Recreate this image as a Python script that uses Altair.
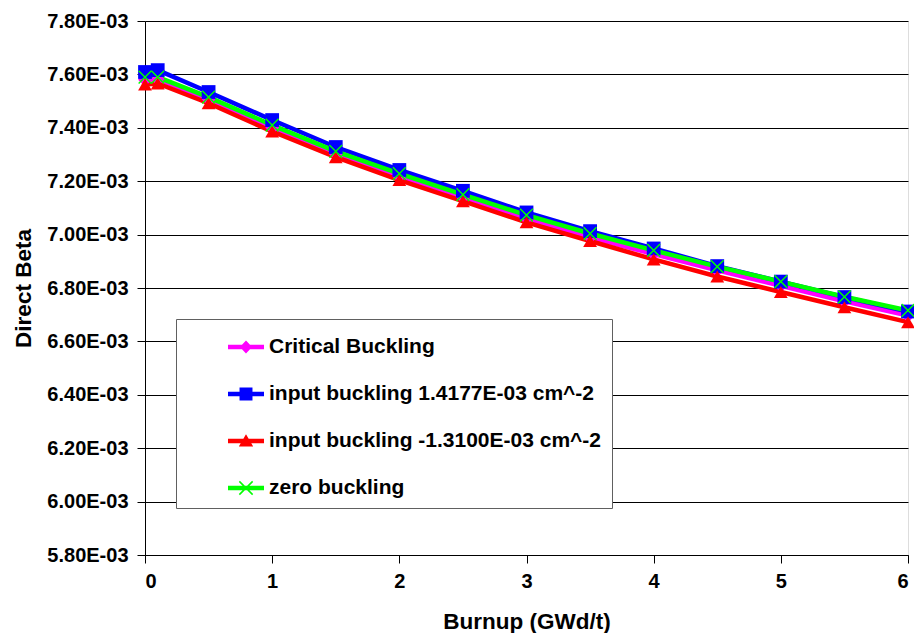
import altair as alt
import pandas as pd

burnup = [0, 0.1, 0.5, 1, 1.5, 2, 2.5, 3, 3.5, 4, 4.5, 5, 5.5, 6]
critical = [7.580, 7.582, 7.506, 7.400, 7.302, 7.218, 7.140, 7.060, 6.990, 6.927, 6.866, 6.808, 6.750, 6.697]
input_pos = [7.609, 7.616, 7.534, 7.429, 7.328, 7.242, 7.164, 7.083, 7.013, 6.948, 6.882, 6.824, 6.766, 6.712]
input_neg = [7.562, 7.566, 7.492, 7.386, 7.290, 7.204, 7.125, 7.046, 6.976, 6.907, 6.843, 6.785, 6.728, 6.672]
zero = [7.590, 7.590, 7.515, 7.410, 7.312, 7.228, 7.150, 7.073, 7.004, 6.941, 6.880, 6.824, 6.767, 6.716]

series_names = [
    "Critical Buckling",
    "input buckling 1.4177E-03 cm^-2",
    "input buckling -1.3100E-03 cm^-2",
    "zero buckling",
]
series_values = [critical, input_pos, input_neg, zero]
series_colors = ["#FF00FF", "#0000FF", "#FF0000", "#00FF00"]

y_ticks = [5.8e-3, 6.0e-3, 6.2e-3, 6.4e-3, 6.6e-3, 6.8e-3, 7.0e-3, 7.2e-3, 7.4e-3, 7.6e-3, 7.8e-3]
x_ticks = [0, 1, 2, 3, 4, 5, 6]

rows = []
for name, vals in zip(series_names, series_values):
    for b, v in zip(burnup, vals):
        rows.append({"burnup": b, "beta": v * 1e-3, "series": name})
df = pd.DataFrame(rows)

X_PATH = "M-1,-0.85L-0.85,-1L1,0.85L0.85,1Z M1,-0.85L-0.85,1L-1,0.85L0.85,-1Z"
point_shapes = ["diamond", "square", "triangle-up", X_PATH]

LINE = "M-1,-0.125L1,-0.125L1,0.125L-1,0.125Z "
legend_shapes = [
    LINE + "M0,-0.36L0.34,0L0,0.36L-0.34,0Z",
    LINE + "M-0.36,-0.36L0.36,-0.36L0.36,0.36L-0.36,0.36Z",
    LINE + "M0,-0.38L0.4,0.3L-0.4,0.3Z",
    LINE + "M-0.4,-0.34L-0.34,-0.4L0.4,0.34L0.34,0.4Z M0.4,-0.34L-0.34,0.4L-0.4,0.34L0.34,-0.4Z",
]

FONT = "Liberation Sans"

x_enc = alt.X(
    "burnup:Q",
    scale=alt.Scale(domain=[0, 6], nice=False),
    axis=alt.Axis(
        values=x_ticks, title="Burnup (GWd/t)", grid=False, format="d",
        labelFont=FONT, labelFontSize=20, labelFontWeight="bold", labelColor="black",
        titleFont=FONT, titleFontSize=22.5, titleFontWeight="bold", titleColor="black",
        tickColor="black", tickSize=8, domainColor="black", domainWidth=1,
        labelPadding=8, titlePadding=19,
    ),
)
y_enc = alt.Y(
    "beta:Q",
    scale=alt.Scale(domain=[5.8e-3, 7.8e-3], nice=False, zero=False),
    axis=alt.Axis(
        values=y_ticks, title="Direct Beta",
        labelExpr="format(datum.value * 1000, '.2f') + 'E-03'",
        labelFont=FONT, labelFontSize=20, labelFontWeight="bold", labelColor="black",
        titleFont=FONT, titleFontSize=22.5, titleFontWeight="bold", titleColor="black",
        tickColor="black", tickSize=8, domainColor="black", domainWidth=1,
        grid=True, gridColor="black", gridWidth=1, gridOpacity=1,
        labelPadding=9, titlePadding=11,
    ),
)

color_scale = alt.Scale(domain=series_names, range=series_colors)

legend_props = dict(
    title=None, orient="none", legendX=31, legendY=298,
    labelFont=FONT, labelFontSize=21, labelFontWeight="bold", labelColor="black",
    symbolSize=1296, symbolStrokeWidth=0, symbolOpacity=1,
    padding=10, rowPadding=19, labelOffset=5, symbolOffset=42,
    strokeColor="#606060", fillColor="white", labelLimit=600,
)

lines = alt.Chart(df).mark_line(strokeWidth=4.5).encode(
    x=x_enc, y=y_enc,
    color=alt.Color("series:N", scale=color_scale, legend=None),
    order=alt.Order("burnup:Q"),
)
points = alt.Chart(df).mark_point(filled=True, size=190, opacity=1).encode(
    x=x_enc, y=y_enc,
    color=alt.Color("series:N", scale=color_scale, legend=None),
    shape=alt.Shape("series:N", scale=alt.Scale(domain=series_names, range=point_shapes), legend=None),
)
legend_layer = alt.Chart(df).transform_filter("false").mark_point(filled=True, opacity=1).encode(
    x=x_enc, y=y_enc,
    color=alt.Color("series:N", scale=color_scale, legend=alt.Legend(**legend_props)),
    shape=alt.Shape("series:N", scale=alt.Scale(domain=series_names, range=legend_shapes),
                    legend=alt.Legend(**legend_props)),
)

chart = alt.layer(lines, points, legend_layer).resolve_scale(
    shape="independent", color="independent"
).properties(
    width=763, height=534,
    autosize=alt.AutoSizeParams(type="none"),
    padding={"left": 145, "top": 21, "right": 6, "bottom": 78},
).configure_view(stroke="#808080", strokeWidth=1.5).configure(background="white")

chart.save("out.html", embed_options={"renderer": "svg", "actions": False})
